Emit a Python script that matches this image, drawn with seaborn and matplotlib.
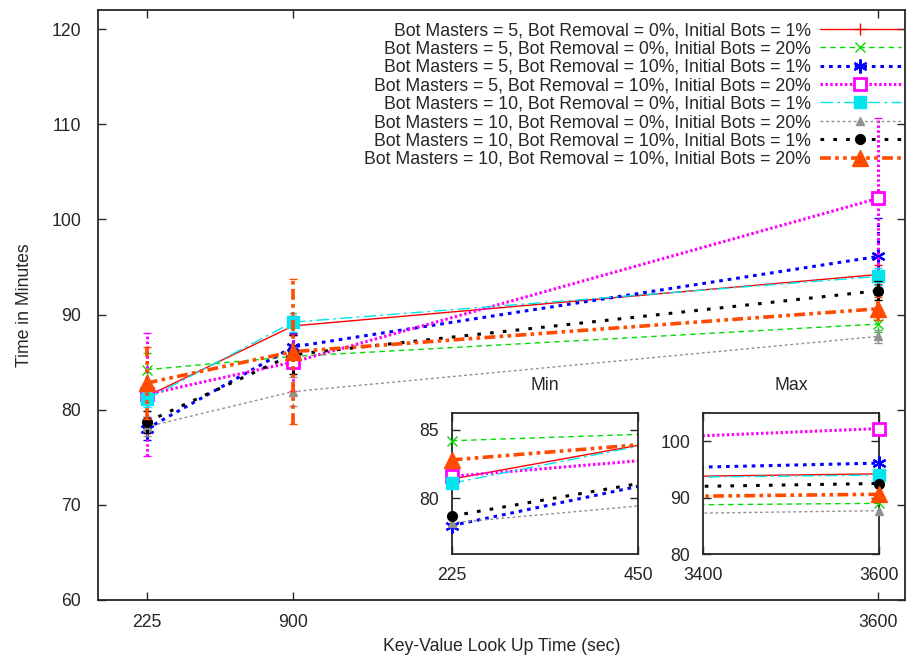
import matplotlib
matplotlib.use("Agg")
import matplotlib.pyplot as plt
import seaborn as sns
import numpy as np

# ---------------- data ----------------
x_vals = [225, 900, 3600]
labels = [
    "Bot Masters = 5, Bot Removal = 0%, Initial Bots = 1%",
    "Bot Masters = 5, Bot Removal = 0%, Initial Bots = 20%",
    "Bot Masters = 5, Bot Removal = 10%, Initial Bots = 1%",
    "Bot Masters = 5, Bot Removal = 10%, Initial Bots = 20%",
    "Bot Masters = 10, Bot Removal = 0%, Initial Bots = 1%",
    "Bot Masters = 10, Bot Removal = 0%, Initial Bots = 20%",
    "Bot Masters = 10, Bot Removal = 10%, Initial Bots = 1%",
    "Bot Masters = 10, Bot Removal = 10%, Initial Bots = 20%",
]
bm5_r0_i1 = [81.4, 88.8, 94.2]
bm5_r0_i20 = [84.2, 85.6, 89.0]
bm5_r10_i1 = [78.0, 86.6, 96.1]
bm5_r10_i20 = [81.6, 85.0, 102.2]
bm10_r0_i1 = [81.1, 89.2, 94.0]
bm10_r0_i20 = [78.2, 81.9, 87.7]
bm10_r10_i1 = [78.7, 85.8, 92.5]
bm10_r10_i20 = [82.8, 86.1, 90.6]

err_bm5_r0_i1 = [0.8, 1.0, 1.0]
err_bm5_r0_i20 = [1.8, 0.8, 0.8]
err_bm5_r10_i1 = [1.2, 1.5, 4.0]
err_bm5_r10_i20 = [6.5, 3.0, 8.5]
err_bm10_r0_i1 = [0.8, 1.0, 0.9]
err_bm10_r0_i20 = [1.0, 1.5, 0.7]
err_bm10_r10_i1 = [1.2, 2.0, 1.0]
err_bm10_r10_i20 = [3.8, 7.6, 1.2]

series = [bm5_r0_i1, bm5_r0_i20, bm5_r10_i1, bm5_r10_i20,
          bm10_r0_i1, bm10_r0_i20, bm10_r10_i1, bm10_r10_i20]
errors = [err_bm5_r0_i1, err_bm5_r0_i20, err_bm5_r10_i1, err_bm5_r10_i20,
          err_bm10_r0_i1, err_bm10_r0_i20, err_bm10_r10_i1, err_bm10_r10_i20]

main_yticks = [60, 70, 80, 90, 100, 110, 120]
min_xticks = [225, 450]
min_yticks = [80, 85]
max_xticks = [3400, 3600]
max_yticks = [80, 90, 100]

# ---------------- styles ----------------
styles = [
    dict(color="#ff0000", ls="-", lw=1.0, marker="+", ms=9, mfc="#ff0000", mew=1.0),
    dict(color="#00dd00", ls=(0, (4, 3)), lw=1.0, marker="x", ms=7, mfc="#00dd00", mew=1.0),
    dict(color="#0000ff", ls=(0, (1.2, 1.6)), lw=2.2, marker=(6, 2, 0), ms=10, mfc="#0000ff", mew=1.6),
    dict(color="#ff00ff", ls=(0, (0.8, 0.8)), lw=2.2, marker="s", ms=9, mfc="white", mew=2.0),
    dict(color="#00e5ee", ls=(0, (9, 3, 2, 3)), lw=1.0, marker="s", ms=8, mfc="#00e5ee", mew=1.0),
    dict(color="#909090", ls=(0, (2, 2)), lw=1.0, marker="^", ms=6, mfc="#909090", mew=1.0),
    dict(color="#000000", ls=(0, (1.2, 3)), lw=2.2, marker="o", ms=7, mfc="#000000", mew=1.0),
    dict(color="#ff4a00", ls=(0, (3, 1.2, 1, 1.2, 1, 1.2)), lw=2.6, marker="^", ms=11, mfc="#ff4a00", mew=1.0),
]

FS = 12.7

sns.set_style("ticks")
plt.rcParams["font.family"] = ["Liberation Sans", "DejaVu Sans"]
plt.rcParams["font.size"] = FS
plt.rcParams["xtick.direction"] = "in"
plt.rcParams["ytick.direction"] = "in"
plt.rcParams["axes.linewidth"] = 1.3

fig = plt.figure(figsize=(9.18, 6.6), dpi=100)
ax = fig.add_axes([98 / 918, 1 - 600 / 660, (905 - 98) / 918, (600 - 10) / 660])


def draw(axis, xs, ys, st, label=None):
    sns.lineplot(x=xs, y=ys, ax=axis, color=st["color"], linestyle=st["ls"],
                 linewidth=st["lw"], marker=None, label=label, legend=False)
    line = axis.lines[-1]
    line.set_marker(st["marker"])
    line.set_markersize(st["ms"])
    line.set_markerfacecolor(st["mfc"])
    line.set_markeredgecolor(st["color"])
    line.set_markeredgewidth(st["mew"])
    return line


handles = []
for ys, es, st, lab in zip(series, errors, styles, labels):
    eb = ax.errorbar(x_vals, ys, yerr=es, fmt="none", ecolor=st["color"],
                     elinewidth=st["lw"], capsize=3.2, capthick=1.0, zorder=2)
    for lc in eb[2]:
        lc.set_linestyle(st["ls"])
    h = draw(ax, x_vals, ys, st, label=lab)
    handles.append(h)

ax.set_xlim(0, 3725)
ax.set_ylim(60, 122)
ax.set_xticks(x_vals)
ax.set_xticklabels([str(v) for v in x_vals])
ax.set_yticks(main_yticks)
ax.tick_params(axis="x", which="both", top=True, length=6, width=1.0, pad=10, labelsize=FS)
ax.tick_params(axis="y", which="both", right=True, length=6, width=1.0, pad=12, labelsize=FS)
ax.set_xlabel("Key-Value Look Up Time (sec)", labelpad=5, fontsize=FS)
ax.set_ylabel("Time in Minutes", labelpad=13, fontsize=FS)
for sp in ax.spines.values():
    sp.set_visible(True)

leg = ax.legend(handles=handles, labels=labels, loc="upper right",
                bbox_to_anchor=(901 / 918, 1 - 22 / 660), bbox_transform=fig.transFigure,
                frameon=False, markerfirst=False, handlelength=4.6, handletextpad=0.5,
                labelspacing=0.08, borderpad=0, borderaxespad=0, fontsize=FS)

# ---------------- insets ----------------
ax_min = fig.add_axes([451.7 / 918, 1 - 554.3 / 660, 186.6 / 918, 141.6 / 660])
ax_max = fig.add_axes([702.7 / 918, 1 - 554.3 / 660, 176.6 / 918, 141.6 / 660])

for axi, xl, yl, xt, yt, title in [
    (ax_min, (225, 450), (75.9, 86.25), min_xticks, min_yticks, "Min"),
    (ax_max, (3400, 3600), (80, 105), max_xticks, max_yticks, "Max"),
]:
    for ys, st in zip(series, styles):
        ln = draw(axi, x_vals, ys, st)
        ln.set_marker("None")
        xs_in = [xv for xv in x_vals if xl[0] <= xv <= xl[1]]
        ys_in = [yv for xv, yv in zip(x_vals, ys) if xl[0] <= xv <= xl[1]]
        axi.plot(xs_in, ys_in, linestyle="none", marker=st["marker"], ms=st["ms"],
                 mfc=st["mfc"], mec=st["color"], mew=st["mew"], clip_on=False, zorder=5)
    axi.set_xlim(*xl)
    axi.set_ylim(*yl)
    axi.set_xticks(xt)
    axi.set_yticks(yt)
    axi.tick_params(axis="both", which="both", top=True, right=True, length=6, width=1.0,
                    pad=9, labelsize=FS)
    axi.set_title(title, fontsize=FS, pad=16)
    axi.set_xlabel("")
    axi.set_ylabel("")
    for sp in axi.spines.values():
        sp.set_visible(True)
        sp.set_linewidth(1.3)
    axi.set_facecolor("white")

fig.savefig("out.png", dpi=100)
